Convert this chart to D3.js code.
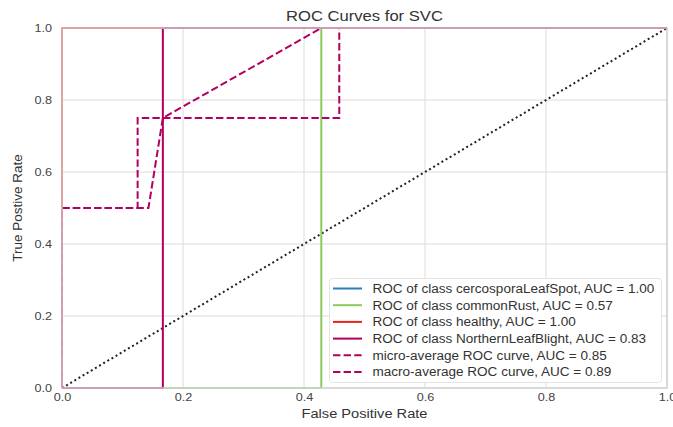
<!DOCTYPE html>
<html><head><meta charset="utf-8">
<script src="https://cdn.jsdelivr.net/npm/d3@7"></script>
<style>body{margin:0;background:#fff;font-family:"Liberation Sans",Arial,sans-serif;}</style>
</head><body><svg id="c" width="673" height="427"></svg>
<script>
const title = "ROC Curves for SVC";
const xLabel = "False Positive Rate";
const yLabel = "True Postive Rate";
const tickValues = [0, 0.2, 0.4, 0.6, 0.8, 1.0];
const classNames = ["cercosporaLeafSpot", "commonRust", "healthy", "NorthernLeafBlight"];
const classAUC = [1.00, 0.57, 1.00, 0.83];
const classColors = ["#2a7db8", "#8dc860", "#e5231c", "#b3005f"];
const fprCercospora = [0, 0, 1];
const tprCercospora = [0, 1, 1];
const fprCommonRust = [0, 0.4286, 0.4286, 1];
const tprCommonRust = [0, 0, 1, 1];
const fprHealthy = [0, 0, 1];
const tprHealthy = [0, 1, 1];
const fprNLB = [0, 0.1667, 0.1667, 1];
const tprNLB = [0, 0, 1, 1];
const fprMicro = [0, 0, 0.125, 0.125, 0.4583, 0.4583, 1];
const tprMicro = [0, 0.5, 0.5, 0.75, 0.75, 1, 1];
const microAUC = 0.85;
const fprMacro = [0, 0, 0.1429, 0.1667, 0.4286, 1];
const tprMacro = [0, 0.5, 0.5, 0.75, 1, 1];
const macroAUC = 0.89;

const FONT = "Liberation Sans, Arial, sans-serif";
const svg = d3.select("#c");
const L = 62, R = 667, T = 28, B = 388;
const x = d3.scaleLinear().domain([0, 1]).range([L, R]);
const y = d3.scaleLinear().domain([0, 1]).range([B, T]);

function stretch(sel, f) {
  sel.each(function () {
    const w = this.getComputedTextLength();
    d3.select(this).attr("textLength", w * f).attr("lengthAdjust", "spacingAndGlyphs");
  });
}

const defs = svg.append("defs");
defs.append("clipPath").attr("id", "inner")
  .append("rect").attr("x", L + 1).attr("y", T + 1).attr("width", R - L - 2).attr("height", B - T - 2);
const band = defs.append("clipPath").attr("id", "band");
band.append("rect").attr("x", L - 1.5).attr("y", T - 1.5).attr("width", 3).attr("height", B - T + 3);
band.append("rect").attr("x", R - 1.5).attr("y", T - 1.5).attr("width", 3).attr("height", B - T + 3);
band.append("rect").attr("x", L - 1.5).attr("y", T - 1.5).attr("width", R - L + 3).attr("height", 3);
band.append("rect").attr("x", L - 1.5).attr("y", B - 1.5).attr("width", R - L + 3).attr("height", 3);

// grid
const g = svg.append("g");
g.selectAll(".gx").data(tickValues).join("line")
  .attr("x1", d => x(d)).attr("x2", d => x(d)).attr("y1", T).attr("y2", B)
  .attr("stroke", "#dcdcdc").attr("stroke-width", 1);
g.selectAll(".gy").data(tickValues).join("line")
  .attr("y1", d => y(d)).attr("y2", d => y(d)).attr("x1", L).attr("x2", R)
  .attr("stroke", "#dcdcdc").attr("stroke-width", 1);
svg.append("rect").attr("x", L).attr("y", T).attr("width", R - L).attr("height", B - T)
  .attr("fill", "none").attr("stroke", "#d2d2d2").attr("stroke-width", 1.5);

// axes
const xAxis = svg.append("g").attr("transform", `translate(0,${B})`)
  .call(d3.axisBottom(x).tickValues(tickValues).tickFormat(d3.format(".1f")).tickSize(0).tickPadding(5));
const yAxis = svg.append("g").attr("transform", `translate(${L},0)`)
  .call(d3.axisLeft(y).tickValues(tickValues).tickFormat(d3.format(".1f")).tickSize(0).tickPadding(10));
[xAxis, yAxis].forEach(a => {
  a.select(".domain").remove();
  a.selectAll("text").attr("font-family", FONT).attr("font-size", 11.5).attr("fill", "#444");
  stretch(a.selectAll("text"), 1.1);
});

const line = d3.line().x(d => x(d[0])).y(d => y(d[1]));
const avgColor = classColors[classColors.length - 1];
const curves = [
  {fpr: fprCercospora, tpr: tprCercospora, color: classColors[0], dash: null},
  {fpr: fprCommonRust, tpr: tprCommonRust, color: classColors[1], dash: null},
  {fpr: fprHealthy, tpr: tprHealthy, color: classColors[2], dash: null},
  {fpr: fprNLB, tpr: tprNLB, color: classColors[3], dash: null},
  {fpr: fprMicro, tpr: tprMicro, color: avgColor, dash: "7.4,3.2"},
  {fpr: fprMacro, tpr: tprMacro, color: avgColor, dash: "7.4,3.2"}
];

function drawCurves(clipId, opacity) {
  const plot = svg.append("g").attr("clip-path", `url(#${clipId})`).attr("opacity", opacity);
  plot.append("path").datum([[0, 0], [1, 1]]).attr("d", line)
    .attr("fill", "none").attr("stroke", "#222").attr("stroke-width", 2)
    .attr("stroke-dasharray", "2,2.8");
  curves.forEach(c => {
    plot.append("path").datum(d3.zip(c.fpr, c.tpr)).attr("d", line)
      .attr("fill", "none").attr("stroke", c.color).attr("stroke-width", 2)
      .attr("stroke-dasharray", c.dash);
  });
}
drawCurves("band", 0.28);
drawCurves("inner", 1);

// title & labels
stretch(svg.append("text").attr("x", (L + R) / 2).attr("y", 21).attr("text-anchor", "middle")
  .attr("font-family", FONT).attr("font-size", 14.5).attr("fill", "#333").text(title), 1.145);
stretch(svg.append("text").attr("x", (L + R) / 2).attr("y", 418).attr("text-anchor", "middle")
  .attr("font-family", FONT).attr("font-size", 12.5).attr("fill", "#333").text(xLabel), 1.17);
svg.append("text").attr("transform", `translate(22,${(T + B) / 2}) rotate(-90)`)
  .attr("text-anchor", "middle").attr("font-family", FONT).attr("font-size", 13.5)
  .attr("fill", "#333").text(yLabel);

// legend
const legendItems = classNames.map((n, i) => ({label: `ROC of class ${n}, AUC = ${classAUC[i].toFixed(2)}`, color: classColors[i], dash: null}))
  .concat([
    {label: `micro-average ROC curve, AUC = ${microAUC.toFixed(2)}`, color: avgColor, dash: "7.4,3.2"},
    {label: `macro-average ROC curve, AUC = ${macroAUC.toFixed(2)}`, color: avgColor, dash: "7.4,3.2"}
  ]);
const lg = svg.append("g");
lg.append("rect").attr("x", 329.5).attr("y", 278.5).attr("width", 332).attr("height", 104)
  .attr("rx", 3).attr("fill", "#fff").attr("fill-opacity", 0.9).attr("stroke", "#e3e3e3");
const rows = lg.selectAll(".row").data(legendItems).join("g")
  .attr("transform", (d, i) => `translate(0,${288.5 + i * 16.7})`);
rows.append("line").attr("x1", 333).attr("x2", 362).attr("y1", 0).attr("y2", 0)
  .attr("stroke", d => d.color).attr("stroke-width", 2).attr("stroke-dasharray", d => d.dash);
stretch(rows.append("text").attr("x", 372.5).attr("y", 4.3).attr("font-family", FONT)
  .attr("font-size", 12).attr("fill", "#333").text(d => d.label), 1.128);
</script></body></html>
